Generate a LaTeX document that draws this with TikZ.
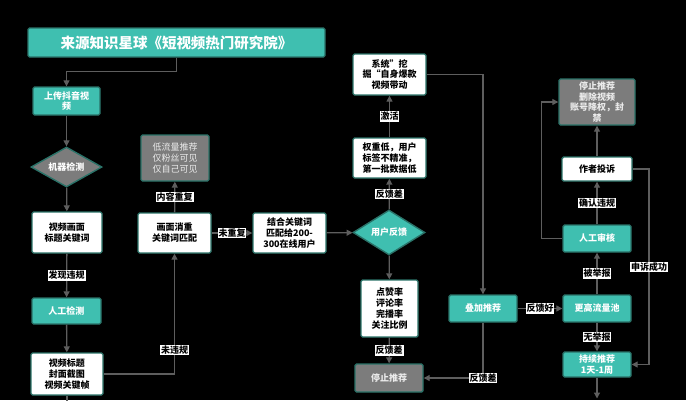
\documentclass[tikz,border=0pt]{standalone}
\usepackage{fontspec}
\setmainfont{Noto Sans CJK SC}
\usetikzlibrary{arrows.meta, positioning, shapes.geometric}
\definecolor{boxteal}{HTML}{3FBFB0}
\definecolor{edgeteal}{HTML}{2A7268}
\definecolor{boxgray}{HTML}{7C7C7C}
\definecolor{linegray}{HTML}{5E5E5E}

\begin{document}
\begin{tikzpicture}[x=1pt, y=-1pt,
  box/.style={draw=edgeteal, line width=1.4pt, rounded corners=1.5pt, inner sep=1pt,
    align=center, font=\fontsize{9}{10.8}\selectfont\bfseries},
  tealnode/.style={box, fill=boxteal, text=white},
  whitenode/.style={box, fill=white, text=black},
  graynode/.style={box, fill=boxgray, text=black!8},
  decision/.style={diamond, draw=edgeteal, line width=1.4pt, inner sep=0pt,
    font=\fontsize{9}{10.8}\selectfont\bfseries, text=white},
  flow/.style={draw=linegray, line width=1.3pt, -{Triangle[length=6pt, width=6pt]}},
  lbl/.style={fill=white, text=black, inner sep=0.8pt, font=\fontsize{9}{10}\selectfont\bfseries}]

  \useasboundingbox (0,0) rectangle (686,400);
  \fill[black] (0,0) rectangle (686,400);

  % left column
  \node[tealnode, minimum width=297pt, minimum height=29pt, font=\fontsize{14.5}{16}\selectfont\bfseries]
    (title) at (176.5,42.5) {来源知识星球《短视频热门研究院》};
  \node[tealnode, minimum width=67pt, minimum height=28pt] (upload) at (66.5,101) {上传抖音视\\频};
  \node[decision, fill=boxgray, minimum width=71pt, minimum height=40pt, aspect=1.8] (machine) at (66.5,167) {机器检测};
  \node[whitenode, minimum width=70pt, minimum height=41pt] (vkeys) at (67,232.5) {视频画面\\标题关键词};
  \node[tealnode, minimum width=69pt, minimum height=26pt] (manual) at (66.5,311) {人工检测};
  \node[whitenode, minimum width=72pt, minimum height=42pt] (frames) at (67,374) {视频标题\\封面截图\\视频关键帧};

  % middle
  \node[graynode, minimum width=68pt, minimum height=46pt, font=\fontsize{9}{10.8}\selectfont] (lowflow) at (175,158) {低流量推荐\\仅粉丝可见\\仅自己可见};
  \node[whitenode, minimum width=73pt, minimum height=40pt] (dedup) at (174.5,233) {画面消重\\关键词匹配};
  \node[whitenode, minimum width=73pt, minimum height=40pt] (match) at (289.5,233) {结合关键词\\匹配给200-\\300在线用户};
  \node[decision, fill=boxteal, minimum width=72pt, minimum height=45pt, aspect=1.6] (feedback) at (389,232.5) {用户反馈};
  \node[whitenode, minimum width=73pt, minimum height=40pt] (weight) at (389.5,158) {权重低，用户\\标签不精准，\\第一批数据低};
  \node[whitenode, minimum width=73pt, minimum height=41pt] (mining) at (389.5,74.5) {系统”挖\\掘“自身爆款\\视频带动};
  \node[whitenode, minimum width=57pt, minimum height=57pt] (rates) at (389.5,308.5) {点赞率\\评论率\\完播率\\关注比例};
  \node[graynode, minimum width=68pt, minimum height=28pt] (stop) at (389,378) {停止推荐};

  % right
  \node[tealnode, minimum width=68pt, minimum height=27pt] (boost) at (483,308.5) {叠加推荐};
  \node[tealnode, minimum width=68pt, minimum height=27pt] (pool) at (597,308.5) {更高流量池};
  \node[tealnode, minimum width=68pt, minimum height=27pt] (review) at (597,238.5) {人工审核};
  \node[whitenode, minimum width=70pt, minimum height=24pt] (complain) at (597,169) {作者投诉};
  \node[graynode, minimum width=76pt, minimum height=46pt] (ban) at (597,102) {停止推荐\\删除视频\\账号降权，封\\禁};
  \node[tealnode, minimum width=68pt, minimum height=25pt] (keep) at (597,364.5) {持续推荐\\1天-1周};

  \coordinate (leftout) at (67,408);
  \coordinate (rightout) at (597,398.5);
  \coordinate (appeal) at (649,169);

  \draw[flow] (title.south) -- ++(0,14) -| (upload.north);
  \draw[flow] (upload) -- (machine);
  \draw[flow] (machine) -- (vkeys);
  \draw[flow] (vkeys) -- node[lbl] {发现违规} (manual);
  \draw[flow] (manual) -- (frames);
  \draw[flow] (frames) -- (leftout);
  \draw[flow] (frames.east) -| node[lbl, pos=0.6] {未违规} (dedup.south);
  \draw[flow] (dedup) -- node[lbl] {内容重复} (lowflow);
  \draw[flow] (dedup) -- node[lbl] {未重复} (match);
  \draw[flow] (match) -- (feedback);
  \draw[flow] (feedback) -- node[lbl] {反馈差} (weight);
  \draw[flow] (weight) -- node[lbl] {激活} (mining);
  \draw[flow] (mining.east) -| (boost.north);
  \draw[flow] (feedback) -- (rates);
  \draw[flow] (rates) -- node[lbl] {反馈差} (stop);
  \draw[flow] (boost.south) |- node[lbl, pos=0.5] {反馈差} (stop.east);
  \draw[flow] (boost) -- node[lbl] {反馈好} (pool);
  \draw[flow] (pool) -- node[lbl] {被举报} (review);
  \draw[flow] (review) -- node[lbl] {确认违规} (complain);
  \draw[flow] (complain) -- (ban);
  \draw[flow] (review.west) -- ++(-21,0) |- (ban.west);
  \draw[flow] (complain.east) -- (appeal) |- node[lbl, pos=0.25] {申诉成功} (keep.east);
  \draw[flow] (pool) -- node[lbl] {无举报} (keep);
  \draw[flow] (keep) -- (rightout);
\end{tikzpicture}
\end{document}
